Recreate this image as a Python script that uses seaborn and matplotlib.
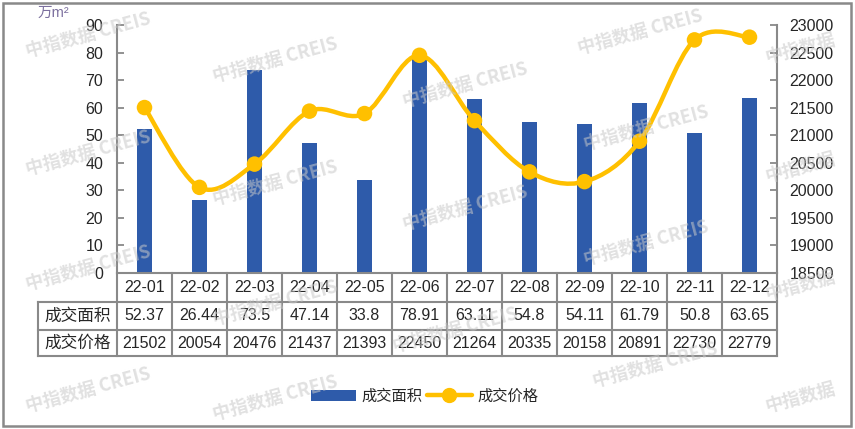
import matplotlib
matplotlib.use("Agg")
import matplotlib.pyplot as plt
import seaborn as sns
import numpy as np
import pandas as pd
from matplotlib.path import Path
from matplotlib.patches import PathPatch, Rectangle
from matplotlib.lines import Line2D
from matplotlib.patches import Patch
from matplotlib.transforms import blended_transform_factory

# ---- data ----
months = ["22-01", "22-02", "22-03", "22-04", "22-05", "22-06",
          "22-07", "22-08", "22-09", "22-10", "22-11", "22-12"]
area = [52.37, 26.44, 73.5, 47.14, 33.8, 78.91, 63.11, 54.8, 54.11, 61.79, 50.8, 63.65]
price = [21502, 20054, 20476, 21437, 21393, 22450, 21264, 20335, 20158, 20891, 22730, 22779]
area_label = "成交面积"
price_label = "成交价格"
unit_label = "万m²"
watermark = "中指数据 CREIS"
watermark_short = "中指数据"

sns.set_style("white")
plt.rcParams['font.family'] = ['Liberation Sans', 'Noto Sans CJK SC', 'DejaVu Sans']

W, H = 855, 429
fig = plt.figure(figsize=(W / 100, H / 100), dpi=100)

def fx(px):
    return px / W

def fy(py):
    return 1 - py / H

left, right, top, bottom = 117, 777, 25, 273
ax = fig.add_axes([fx(left), fy(bottom), (right - left) / W, (bottom - top) / H])
ax.set_facecolor("none")

BLUE = "#2E5BAA"
GOLD = "#FFC000"
GRAY = "#898989"

df = pd.DataFrame({"month": months, "area": area, "price": price})
sns.barplot(data=df, x="month", y="area", ax=ax, color=BLUE, width=0.255,
            saturation=1, edgecolor="none", zorder=2)
ax.set_xlim(-0.5, len(months) - 0.5)
ax.set_ylim(0, 90)
ax.set_yticks(np.arange(0, 91, 10))
ax.set_xlabel("")
ax.set_ylabel("")
ax.tick_params(axis="x", length=0, labelbottom=False)
ax.tick_params(axis="y", direction="in", length=5, width=1.3, color=GRAY,
               labelsize=11.5, pad=10)
for s in ["top", "right"]:
    ax.spines[s].set_visible(False)
for s in ["left", "bottom"]:
    ax.spines[s].set_color(GRAY)
    ax.spines[s].set_linewidth(1.5)

ax2 = ax.twinx()
ax2.set_ylim(18500, 23000)
ax2.set_yticks(np.arange(18500, 23001, 500))
ax2.tick_params(axis="y", direction="in", length=5, width=1.3, color=GRAY,
                labelsize=11.5, pad=9)
for s in ["top", "left", "bottom"]:
    ax2.spines[s].set_visible(False)
ax2.spines["right"].set_color(GRAY)
ax2.spines["right"].set_linewidth(1.5)
ax2.grid(False)
ax.grid(False)

# smoothed line (Bezier through the data points)
xs = np.arange(len(price), dtype=float)
ys = np.array(price, dtype=float)
verts = [(xs[0], ys[0])]
codes = [Path.MOVETO]
n = len(xs)
for i in range(n - 1):
    p0 = np.array([xs[max(i - 1, 0)], ys[max(i - 1, 0)]])
    p1 = np.array([xs[i], ys[i]])
    p2 = np.array([xs[i + 1], ys[i + 1]])
    p3 = np.array([xs[min(i + 2, n - 1)], ys[min(i + 2, n - 1)]])
    c1 = p1 + (p2 - p0) / 6.0
    c2 = p2 - (p3 - p1) / 6.0
    verts += [tuple(c1), tuple(c2), tuple(p2)]
    codes += [Path.CURVE4] * 3
patch = PathPatch(Path(verts, codes), facecolor="none", edgecolor=GOLD,
                  lw=3.2, zorder=3, capstyle="round", joinstyle="round")
ax2.add_patch(patch)
sns.scatterplot(x=xs, y=ys, ax=ax2, color=GOLD, s=125, edgecolor="none",
                zorder=4, legend=False)
ax2.set_xlim(-0.5, len(months) - 0.5)

# ---- data table ----
tr = blended_transform_factory(ax.transData, ax.transAxes)

def ay(py):
    return (bottom - py) / (bottom - top)

hdr_left = -0.5 - (left - 38) / 55.0
row_lines = [302, 330, 356]
lk = dict(color=GRAY, lw=1.5, transform=tr, clip_on=False, solid_capstyle="projecting")
for py in row_lines:
    ax.plot([hdr_left, len(months) - 0.5], [ay(py), ay(py)], **lk)
for k in range(len(months) + 1):
    ax.plot([k - 0.5, k - 0.5], [0, ay(356)], **lk)
ax.plot([hdr_left, hdr_left], [ay(302), ay(356)], **lk)

for i, m in enumerate(months):
    ax.text(i, ay(287.5), m, ha="center", va="center", fontsize=11.5,
            transform=tr, clip_on=False)
    ax.text(i, ay(316), str(area[i]), ha="center", va="center", fontsize=11.5,
            transform=tr, clip_on=False)
    ax.text(i, ay(343), str(price[i]), ha="center", va="center", fontsize=11.5,
            transform=tr, clip_on=False)
hdr_x = (hdr_left + (-0.5)) / 2
ax.text(hdr_x, ay(316), area_label, ha="center", va="center", fontsize=12,
        family=["Noto Sans CJK SC"], transform=tr, clip_on=False)
ax.text(hdr_x, ay(343), price_label, ha="center", va="center", fontsize=12,
        family=["Noto Sans CJK SC"], transform=tr, clip_on=False)

# unit label
fig.text(fx(53), fy(13), unit_label, ha="center", va="center", fontsize=10.5,
         color="#7B6F9E", family=["Liberation Sans", "Noto Sans CJK SC"])

# legend
handles = [Patch(facecolor=BLUE, edgecolor="none"),
           Line2D([0], [0], color=GOLD, lw=3.2, marker="o", markersize=10,
                  markeredgecolor=GOLD)]
leg = fig.legend(handles, [area_label, price_label], loc="center",
                 bbox_to_anchor=(fx(425), fy(396)), ncol=2, frameon=False,
                 prop={"family": "Noto Sans CJK SC", "size": 11},
                 handlelength=2.9, handletextpad=0.4, columnspacing=0.3)

# outer border
fig.patches.append(Rectangle((fx(3), fy(426)), fx(848), 423 / H, transform=fig.transFigure,
                             fill=False, edgecolor=GRAY, lw=1.8))

# watermarks
wm_pos = [(88, 35), (88, 153), (88, 268), (88, 390),
          (275, 60), (275, 183), (275, 303), (275, 398),
          (465, 85), (455, 330), (465, 208),
          (640, 32), (646, 128), (646, 243), (655, 365)]
for (px, py) in wm_pos:
    fig.text(fx(px), fy(py), watermark, ha="center", va="center", rotation=15,
             fontsize=13, fontweight="bold", color="#c8c8c8", alpha=0.55,
             family=["Noto Sans CJK SC"], zorder=10)
for py in [48, 167, 285, 397]:
    fig.text(fx(800), fy(py), watermark_short, ha="center", va="center", rotation=15,
             fontsize=13, fontweight="bold", color="#c8c8c8", alpha=0.55,
             family=["Noto Sans CJK SC"], zorder=10)

fig.savefig("out.png", dpi=100)
